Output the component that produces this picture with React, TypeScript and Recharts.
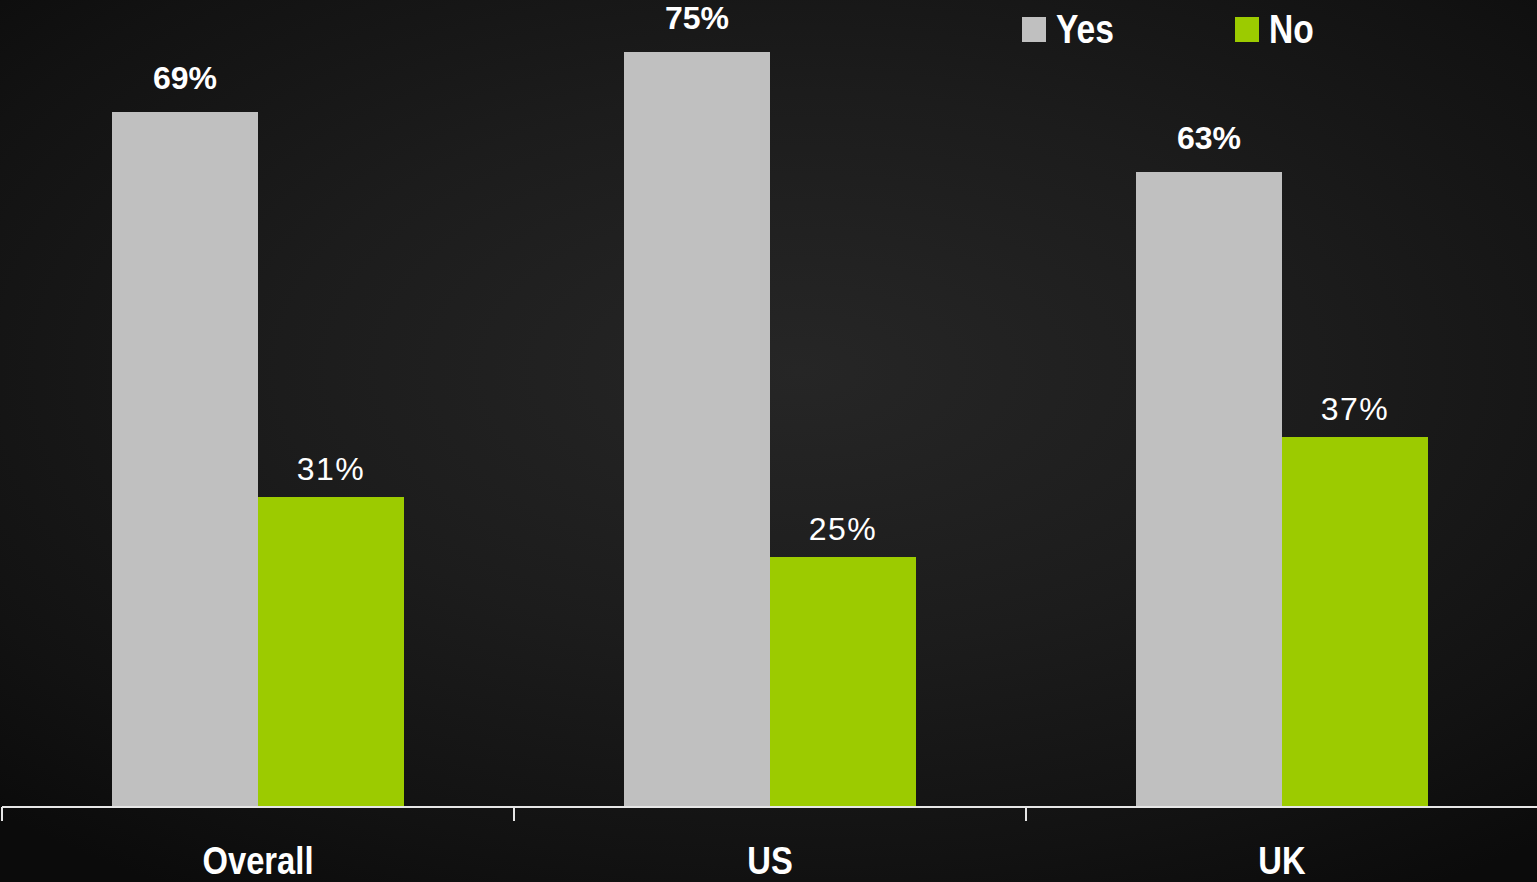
import React from 'react';
import { BarChart, Bar, XAxis, YAxis, Legend, LabelList } from 'recharts';

const categories = ['Overall', 'US', 'UK'];
const yesValues = [69.5, 75.5, 63.5];
const noValues = [31, 25, 37];
const yesLabels = ['69%', '75%', '63%'];
const noLabels = ['31%', '25%', '37%'];

const YES_COLOR = '#c0c0c0';
const NO_COLOR = '#9ccb00';
const SANS = "'Liberation Sans', Arial, sans-serif";
const SQUEEZE = 0.84; // fake a narrow bold face

const W = 1538;
const H = 882;
const MARGIN = { top: 7, right: 0, left: 2, bottom: 0 };
const BAND = (W - MARGIN.left - MARGIN.right) / categories.length;

const data = categories.map((name, i) => ({
  name,
  yes: yesValues[i],
  no: noValues[i],
  yesLabel: yesLabels[i],
  noLabel: noLabels[i],
}));

const series = [
  { key: 'yes', name: 'Yes', color: YES_COLOR },
  { key: 'no', name: 'No', color: NO_COLOR },
];

const CategoryTick = (props: any) => {
  const { x, y, payload } = props;
  const edge = x - BAND / 2;
  return (
    <g>
      <line x1={edge} y1={y} x2={edge} y2={y + 14} stroke="#e6e6e6" strokeWidth={2} />
      <text
        transform={`translate(${x},${y + 67}) scale(${SQUEEZE},1)`}
        textAnchor="middle"
        fill="#ffffff"
        fontFamily={SANS}
        fontWeight="bold"
        fontSize={39}
      >
        {payload.value}
      </text>
    </g>
  );
};

const renderLegend = () => (
  <div style={{ display: 'flex', alignItems: 'center', fontFamily: SANS, fontWeight: 'bold', fontSize: 40, color: '#fff' }}>
    {series.map((s) => (
      <div key={s.key} style={{ display: 'flex', alignItems: 'center', width: 213 }}>
        <span style={{ width: 24, height: 25, background: s.color, marginRight: 10, display: 'inline-block' }} />
        <span
          style={{
            lineHeight: '40px',
            display: 'inline-block',
            transform: `scaleX(${SQUEEZE})`,
            transformOrigin: 'left center',
          }}
        >
          {s.name}
        </span>
      </div>
    ))}
  </div>
);

const App: React.FC = () => {
  return (
    <div
      style={{
        width: 1537,
        height: H,
        overflow: 'hidden',
        background: 'radial-gradient(ellipse 75% 70% at 52% 42%, #262626 0%, #1c1c1c 45%, #121212 80%, #0b0b0b 100%)',
      }}
    >
      <style>{`body{margin:0;background:#0b0b0b;}`}</style>
      <BarChart width={W} height={H} data={data} margin={MARGIN} barCategoryGap={110} barGap={0}>
        <XAxis
          dataKey="name"
          height={75}
          axisLine={{ stroke: '#e6e6e6', strokeWidth: 2 }}
          tickLine={false}
          tickSize={0}
          tickMargin={0}
          tick={<CategoryTick />}
          interval={0}
        />
        <YAxis hide domain={[0, 80]} />
        <Legend
          content={renderLegend}
          layout="vertical"
          align="center"
          verticalAlign="middle"
          wrapperStyle={{ top: 9, left: 1022, width: 430, height: 42 }}
        />
        <Bar dataKey="yes" name="Yes" fill={YES_COLOR} isAnimationActive={false}>
          <LabelList
            dataKey="yesLabel"
            position="top"
            offset={23}
            fill="#ffffff"
            fontFamily={SANS}
            fontWeight="bold"
            fontSize={32}
          />
        </Bar>
        <Bar dataKey="no" name="No" fill={NO_COLOR} isAnimationActive={false}>
          <LabelList
            dataKey="noLabel"
            position="top"
            offset={17}
            fill="#ffffff"
            fontFamily={SANS}
            fontSize={32}
            letterSpacing={1.5}
          />
        </Bar>
      </BarChart>
    </div>
  );
};

export default App;
